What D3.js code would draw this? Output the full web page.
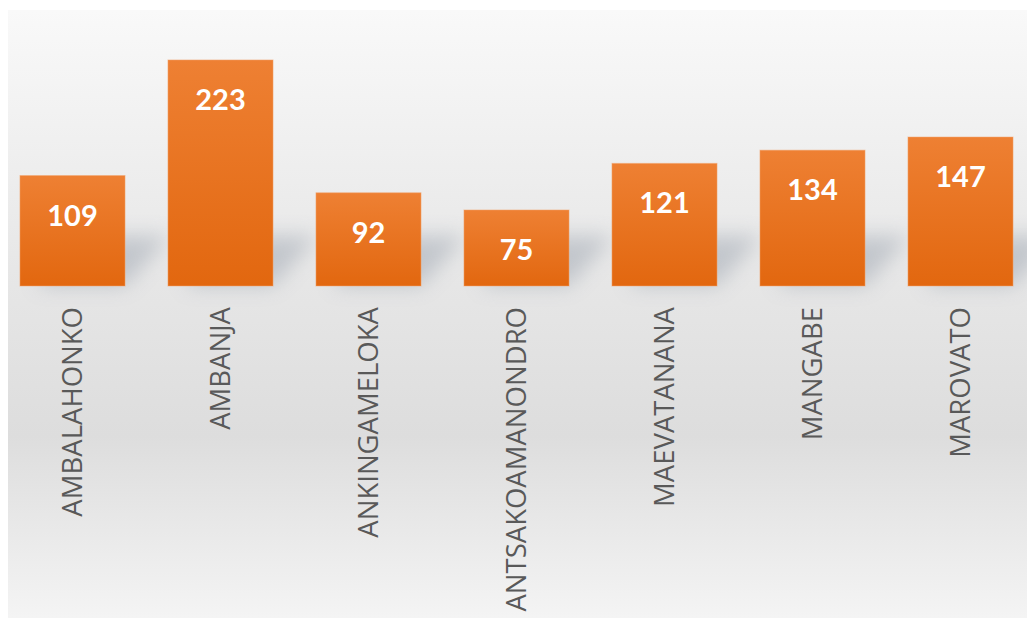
<!DOCTYPE html>
<html>
<head>
<meta charset="utf-8">
<script src="https://cdn.jsdelivr.net/npm/d3@7"></script>
<style>
	body { margin: 0; background: #ffffff; }
	svg { display: block; }
</style>
</head>
<body>
<svg id="chart"></svg>
<script>
// chart data
var categories = ['AMBALAHONKO', 'AMBANJA', 'ANKINGAMELOKA', 'ANTSAKOAMANONDRO', 'MAEVATANANA', 'MANGABE', 'MAROVATO'];
var values = [109, 223, 92, 75, 121, 134, 147];
var yMax = 250;

var width = 1027, height = 618;
var baseY = 286;

var svg = d3.select('#chart').attr('width', width).attr('height', height);
var defs = svg.append('defs');

// background gradient
var bg = defs.append('linearGradient').attr('id', 'bgGrad').attr('x1', 0).attr('y1', 0).attr('x2', 0).attr('y2', 1);
bg.append('stop').attr('offset', '0%').attr('stop-color', '#f9f9f9');
bg.append('stop').attr('offset', '40%').attr('stop-color', '#e8e8e8');
bg.append('stop').attr('offset', '70%').attr('stop-color', '#dddddd');
bg.append('stop').attr('offset', '100%').attr('stop-color', '#f4f4f4');

// bar gradient
var bar = defs.append('linearGradient').attr('id', 'barGrad').attr('x1', 0).attr('y1', 0).attr('x2', 0).attr('y2', 1);
bar.append('stop').attr('offset', '0%').attr('stop-color', '#ee8033');
bar.append('stop').attr('offset', '100%').attr('stop-color', '#e2670f');

// shadow blur
defs.append('filter').attr('id', 'blur').attr('x', '-50%').attr('y', '-50%').attr('width', '200%').attr('height', '200%')
	.append('feGaussianBlur').attr('stdDeviation', 10);

svg.append('rect')
	.attr('x', 8).attr('y', 10).attr('width', width - 8).attr('height', height - 10)
	.style('fill', 'url(#bgGrad)');

var x = d3.scaleBand()
	.domain(categories)
	.range([-1.5, 1034.5])
	.paddingInner(0.29)
	.paddingOuter(0.145);

var y = d3.scaleLinear()
	.domain([0, yMax])
	.range([baseY, baseY - 253.4]);

var data = categories.map((c, i) => ({ name: c, val: values[i] }));

// soft perspective shadows
svg.append('g').selectAll('path').data(data).join('path')
	.attr('d', d => {
		let x0 = x(d.name), x1 = x0 + x.bandwidth();
		let h = Math.min(y(0) - y(d.val), 50);
		return 'M' + (x0 + 15) + ',' + baseY + 'L' + x1 + ',' + baseY +
			'L' + (x1 + 45) + ',' + (baseY - h) + 'L' + (x0 + 60) + ',' + (baseY - h) + 'Z';
	})
	.style('fill', '#8a94a3')
	.style('opacity', 0.4)
	.attr('filter', 'url(#blur)');

// bars
svg.append('g').selectAll('rect').data(data).join('rect')
	.attr('x', d => x(d.name))
	.attr('y', d => y(d.val))
	.attr('width', x.bandwidth())
	.attr('height', d => y(0) - y(d.val))
	.style('fill', 'url(#barGrad)')
	.style('stroke', '#f3a66f')
	.style('stroke-opacity', 0.5)
	.style('stroke-width', 1);

// value labels
svg.append('g').selectAll('text').data(data).join('text')
	.attr('x', d => x(d.name) + x.bandwidth() / 2)
	.attr('y', d => y(d.val) + 50)
	.attr('text-anchor', 'middle')
	.style('font-family', 'Lato, "Open Sans", sans-serif')
	.style('font-weight', 'bold')
	.style('font-size', '29px')
	.style('fill', '#ffffff')
	.text(d => d.val);

// category labels, rotated
svg.append('g').selectAll('text').data(data).join('text')
	.attr('transform', d => 'translate(' + (x(d.name) + x.bandwidth() / 2 + 9) + ',' + (baseY + 21) + ') rotate(-90)')
	.attr('text-anchor', 'end')
	.style('font-family', '"Open Sans", sans-serif')
	.style('font-size', '27.5px')
	.style('fill', '#595959')
	.text(d => d.name);
</script>
</body>
</html>
